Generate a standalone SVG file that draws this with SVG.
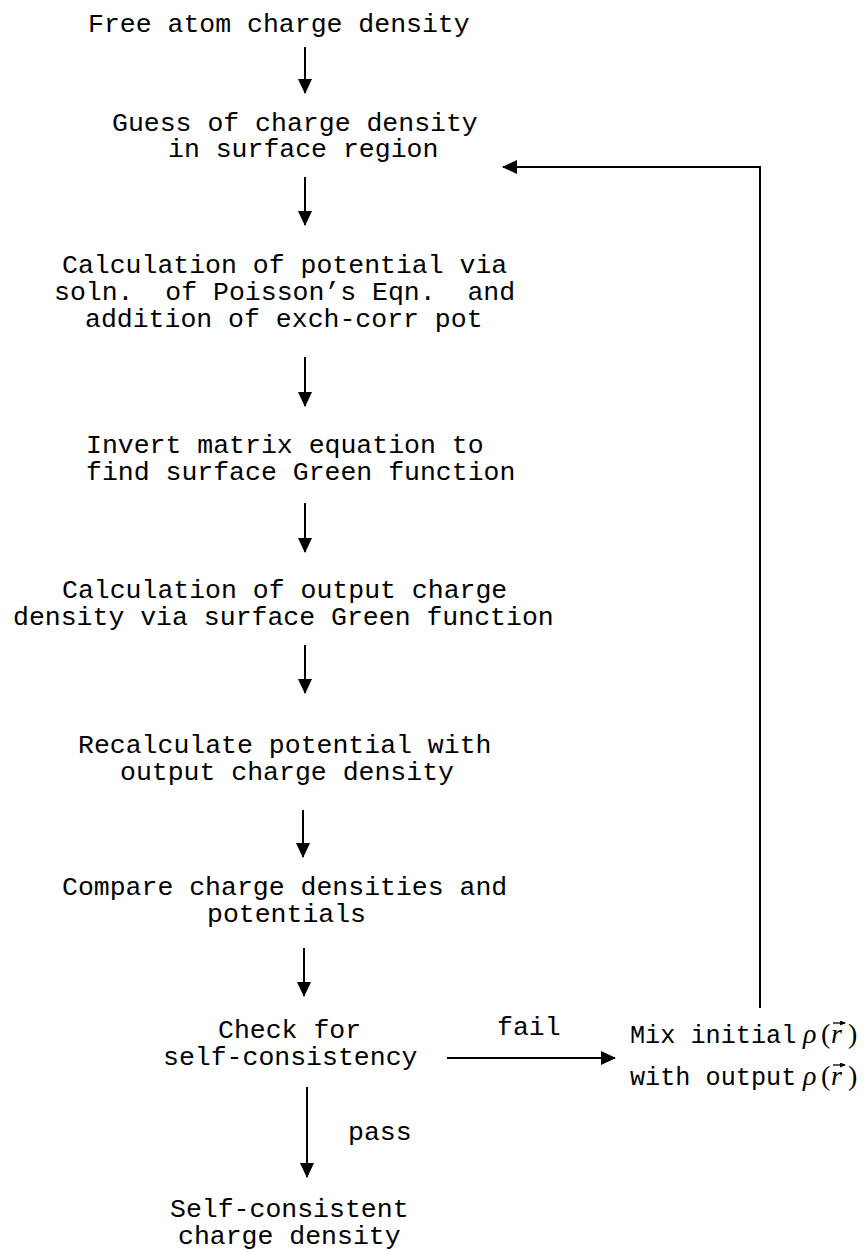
<svg xmlns="http://www.w3.org/2000/svg" width="865" height="1252" viewBox="0 0 865 1252">
<defs>
<style>
text{font-family:"Liberation Mono","Courier New",monospace;font-size:26.5px;fill:#000}
.s{font-size:25.2px}
.m{font-family:"Liberation Serif","Times New Roman",serif;font-size:28px}
.i{font-style:italic}
.c{stroke:#000;stroke-width:2;fill:none}
.v{stroke:#000;stroke-width:1.3;fill:none}
</style>
<marker id="ah" markerWidth="15" markerHeight="14" refX="14" refY="7" orient="auto" markerUnits="userSpaceOnUse">
<path d="M0,0 L15,7 L0,14 Z" fill="#000"/>
</marker>
<marker id="vh" markerWidth="6" markerHeight="5" refX="5" refY="2.5" orient="auto" markerUnits="userSpaceOnUse">
<path d="M0,0 L6,2.5 L0,5 Z" fill="#000"/>
</marker>
</defs>
<rect width="865" height="1252" fill="#fff"/>
<g id="n1"><text x="88" y="32">Free atom charge density</text></g>
<g id="n2"><text x="112" y="131">Guess of charge density</text><text x="168" y="157">in surface region</text></g>
<g id="n3"><text x="62" y="273">Calculation of potential via</text><text x="54" y="300" xml:space="preserve">soln.  of Poisson’s Eqn.  and</text><text x="85" y="327">addition of exch-corr pot</text></g>
<g id="n4"><text x="86" y="453">Invert matrix equation to</text><text x="86" y="480">find surface Green function</text></g>
<g id="n5"><text x="62" y="598">Calculation of output charge</text><text x="13" y="625">density via surface Green function</text></g>
<g id="n6"><text x="78" y="753">Recalculate potential with</text><text x="120" y="780">output charge density</text></g>
<g id="n7"><text x="62" y="895">Compare charge densities and</text><text x="207" y="922">potentials</text></g>
<g id="n8"><text x="218" y="1038">Check for</text><text x="163" y="1065">self-consistency</text></g>
<g id="n9"><text x="170" y="1217">Self-consistent</text><text x="178" y="1244">charge density</text></g>
<g id="n10">
<text class="s" x="630" y="1043">Mix initial</text>
<text class="m" y="1043"><tspan class="i" x="803">ρ</tspan><tspan x="821">(</tspan><tspan class="i" x="831">r</tspan><tspan x="848">)</tspan></text>
<path class="v" d="M833,1023 H845" marker-end="url(#vh)"/>
<text class="s" x="630" y="1085">with output</text>
<text class="m" y="1085"><tspan class="i" x="803">ρ</tspan><tspan x="821">(</tspan><tspan class="i" x="831">r</tspan><tspan x="848">)</tspan></text>
<path class="v" d="M833,1065 H845" marker-end="url(#vh)"/>
</g>
<g id="connectors">
<line class="c" x1="305" y1="47" x2="305" y2="93" marker-end="url(#ah)"/>
<line class="c" x1="305" y1="177" x2="305" y2="225" marker-end="url(#ah)"/>
<line class="c" x1="305" y1="357" x2="305" y2="406" marker-end="url(#ah)"/>
<line class="c" x1="305" y1="503" x2="305" y2="552" marker-end="url(#ah)"/>
<line class="c" x1="305" y1="645" x2="305" y2="693" marker-end="url(#ah)"/>
<line class="c" x1="303" y1="810" x2="303" y2="857" marker-end="url(#ah)"/>
<line class="c" x1="304" y1="948" x2="304" y2="996" marker-end="url(#ah)"/>
<line class="c" x1="307" y1="1087" x2="307" y2="1177" marker-end="url(#ah)"/>
<text x="348" y="1140">pass</text>
<line class="c" x1="447" y1="1058" x2="615" y2="1058" marker-end="url(#ah)"/>
<text x="497" y="1035">fail</text>
<polyline class="c" points="760,1008 760,167 503,167" marker-end="url(#ah)"/>
</g>
</svg>
